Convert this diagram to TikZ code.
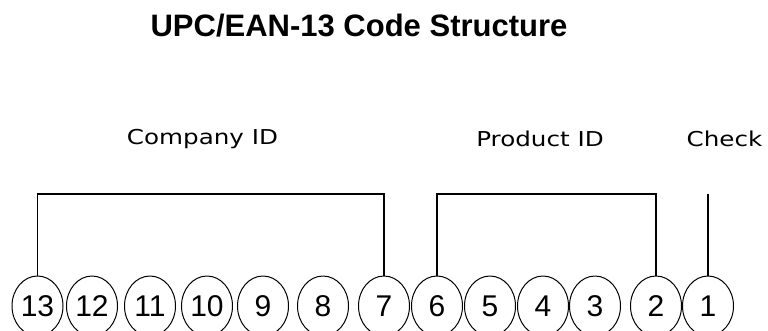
\documentclass[tikz,border=0pt]{standalone}
\usepackage{fontspec}
\usetikzlibrary{shapes.geometric}
\setmainfont{DejaVu Sans}
\newfontfamily\titlefont{Liberation Sans}
\begin{document}
\begin{tikzpicture}[x=1pt,y=-1pt,
  digit/.style={ellipse,draw=black,line width=1pt,minimum width=51pt,minimum height=60pt,inner sep=0pt,
    font=\titlefont\fontsize{30}{30}\selectfont},
  lbl/.style={inner sep=0pt,anchor=center,font=\fontsize{20.5}{20.5}\selectfont},
  brk/.style={draw=black,line width=1.2pt},
  ttl/.style={inner sep=0pt,font=\titlefont\bfseries\fontsize{31}{31}\selectfont}]
\useasboundingbox[fill=white] (0,0) rectangle (768,330);
\node[ttl] (title) at (359,26) {UPC/EAN-13 Code Structure};
\node[lbl] (company) at (202.5,139) {\scalebox{1.2}[1]{Company ID}};
\node[lbl] (product) at (540,139) {\scalebox{1.2}[1]{Product ID}};
\node[lbl] (check) at (724.5,139) {\scalebox{1.2}[1]{Check}};
\foreach \n/\x in {13/37.5,12/92,11/150,10/207,9/263,8/323,7/384,6/437,5/490,4/543,3/595,2/656,1/708}
  \node[digit] (d\n) at (\x,306) {\n};
\coordinate (top) at (0,194);
\draw[brk] (d13.north) -- (d13.north |- top) -- (d7.north |- top) -- (d7.north);
\draw[brk] (d6.north) -- (d6.north |- top) -- (d2.north |- top) -- (d2.north);
\draw[brk] (d1.north) -- (d1.north |- top);
\end{tikzpicture}
\end{document}
